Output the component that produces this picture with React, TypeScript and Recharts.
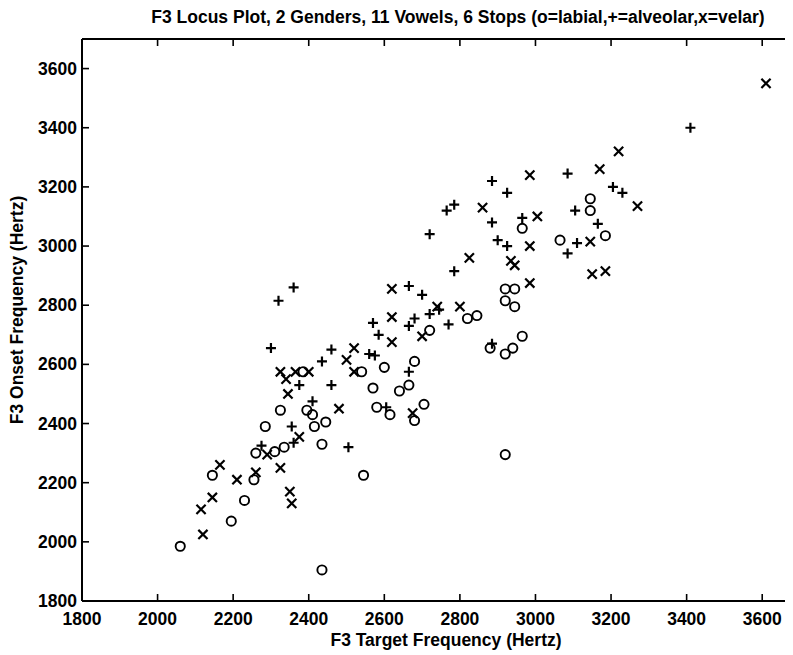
import { ScatterChart, Scatter, XAxis, YAxis, Label } from "recharts";

const FONT = "'Liberation Sans', Arial, Helvetica, sans-serif";

// F3 values in Hz
const labialTarget = [2060, 2195, 2230, 2145, 2255, 2260, 2310, 2335, 2435, 2545, 2435, 2325, 2395, 2410, 2285, 2415, 2445, 2385, 2540, 2600, 2680, 2665, 2640, 2570, 2580, 2615, 2680, 2705, 2720, 2820, 2845, 2880, 2920, 2940, 2965, 2920, 2920, 2945, 2920, 2945, 2965, 3065, 3145, 3145, 3185];
const labialOnset = [1985, 2070, 2140, 2225, 2210, 2300, 2305, 2320, 2330, 2225, 1905, 2445, 2445, 2430, 2390, 2390, 2405, 2575, 2575, 2590, 2610, 2530, 2510, 2520, 2455, 2430, 2410, 2465, 2715, 2755, 2765, 2655, 2635, 2655, 2695, 2295, 2855, 2855, 2815, 2795, 3060, 3020, 3160, 3120, 3035];

const alveolarTarget = [2275, 2360, 2505, 2320, 2300, 2460, 2435, 2375, 2460, 2410, 2355, 2745, 2720, 2770, 2680, 2570, 2665, 2585, 2560, 2575, 2605, 2720, 2900, 2925, 3110, 3085, 2785, 2665, 2700, 2665, 2885, 2765, 2785, 2885, 2360, 3085, 2925, 3205, 3230, 2965, 3105, 3165, 3410, 2885];
const alveolarOnset = [2325, 2335, 2320, 2815, 2655, 2650, 2610, 2530, 2530, 2475, 2390, 2785, 2770, 2735, 2755, 2740, 2730, 2700, 2635, 2630, 2455, 3040, 3020, 3000, 3010, 2975, 2915, 2865, 2835, 2575, 3220, 3120, 3140, 3080, 2860, 3245, 3180, 3200, 3180, 3095, 3120, 3075, 3400, 2670];

const velarTarget = [2120, 2115, 2145, 2165, 2210, 2260, 2290, 2375, 2325, 2350, 2355, 2500, 2325, 2340, 2365, 2400, 2345, 2480, 2740, 2800, 2620, 2620, 2700, 2520, 2520, 2675, 2985, 2825, 2935, 2945, 2985, 2620, 2860, 3220, 3170, 2985, 3270, 3005, 3145, 3150, 3185, 3610];
const velarOnset = [2025, 2110, 2150, 2260, 2210, 2235, 2295, 2355, 2250, 2170, 2130, 2615, 2575, 2550, 2575, 2575, 2500, 2450, 2795, 2795, 2760, 2675, 2695, 2655, 2575, 2435, 3000, 2960, 2950, 2935, 2875, 2855, 3130, 3320, 3260, 3240, 3135, 3100, 3015, 2905, 2915, 3550];

const xTicks = [1800, 2000, 2200, 2400, 2600, 2800, 3000, 3200, 3400, 3600];
const yTicks = [1800, 2000, 2200, 2400, 2600, 2800, 3000, 3200, 3400, 3600];

const toPoints = (xs: number[], ys: number[]) => xs.map((x, i) => ({ target: x, onset: ys[i] }));

const labial = toPoints(labialTarget, labialOnset);
const alveolar = toPoints(alveolarTarget, alveolarOnset);
const velar = toPoints(velarTarget, velarOnset);

const textStyle = { fontFamily: FONT, fontSize: 17.5, fontWeight: 700, fill: "#000" };

function CircleMark({ cx, cy }: any) {
  return <circle cx={cx} cy={cy} r={4.6} fill="none" stroke="#000" strokeWidth={1.9} />;
}

function PlusMark({ cx, cy }: any) {
  const s = 5;
  return <path d={`M${cx - s},${cy}H${cx + s}M${cx},${cy - s}V${cy + s}`} stroke="#000" strokeWidth={2.2} />;
}

function CrossMark({ cx, cy }: any) {
  const s = 4.6;
  return (
    <path
      d={`M${cx - s},${cy - s}L${cx + s},${cy + s}M${cx - s},${cy + s}L${cx + s},${cy - s}`}
      stroke="#000"
      strokeWidth={2.2}
    />
  );
}

const NoMark = () => <g />;

function BottomTick({ x, y, payload }: any) {
  return (
    <g>
      <line x1={x} y1={y} x2={x} y2={y - 7} stroke="#000" strokeWidth={1.6} />
      <text x={x} y={y + 24} textAnchor="middle" {...textStyle}>
        {payload.value}
      </text>
    </g>
  );
}

function LeftTick({ x, y, payload }: any) {
  return (
    <g>
      <line x1={x} y1={y} x2={x + 7} y2={y} stroke="#000" strokeWidth={1.6} />
      <text x={x - 5} y={y + 6} textAnchor="end" {...textStyle}>
        {payload.value}
      </text>
    </g>
  );
}

function TopTick({ x, y }: any) {
  return <line x1={x} y1={y} x2={x} y2={y + 7} stroke="#000" strokeWidth={1.6} />;
}

function RightTick({ x, y }: any) {
  return <line x1={x} y1={y} x2={x - 10} y2={y} stroke="#000" strokeWidth={1.6} />;
}

export default function App() {
  return (
    <div style={{ position: "relative", width: 785, height: 647, overflow: "hidden", background: "#fff" }}>
      <div
        style={{
          position: "absolute",
          left: 0,
          top: 0,
          width: 900,
          textAlign: "center",
          fontFamily: FONT,
          fontSize: 17.5,
          fontWeight: 700,
          lineHeight: "18px",
          whiteSpace: "nowrap",
        }}
      >
        F3 Locus Plot, 2 Genders, 11 Vowels, 6 Stops (o=labial,+=alveolar,x=velar)
      </div>
      <ScatterChart width={800} height={647} margin={{ top: 30, right: 7, bottom: 0, left: 0 }}>
        <XAxis
          xAxisId="bottom"
          type="number"
          dataKey="target"
          domain={[1800, 3700]}
          ticks={xTicks}
          interval={0}
          height={54}
          tickSize={0}
          tickMargin={0}
          tickLine={false}
          tick={<BottomTick />}
          axisLine={{ stroke: "#000", strokeWidth: 2 }}
        >
          <Label
            content={() => (
              <text x={438} y={638} textAnchor="middle" {...textStyle}>
                F3 Target Frequency (Hertz)
              </text>
            )}
          />
        </XAxis>
        <XAxis
          xAxisId="top"
          orientation="top"
          type="number"
          dataKey="target"
          domain={[1800, 3700]}
          ticks={xTicks.slice(1)}
          interval={0}
          height={1}
          tickSize={0}
          tickMargin={0}
          tickLine={false}
          tick={<TopTick />}
          axisLine={{ stroke: "#000", strokeWidth: 2 }}
        />
        <YAxis
          yAxisId="left"
          type="number"
          dataKey="onset"
          domain={[1800, 3700]}
          ticks={yTicks}
          interval={0}
          width={74}
          tickSize={0}
          tickMargin={0}
          tickLine={false}
          tick={<LeftTick />}
          axisLine={{ stroke: "#000", strokeWidth: 2 }}
        >
          <Label
            content={() => (
              <text transform="translate(15, 302) rotate(-90)" textAnchor="middle" {...textStyle}>
                F3 Onset Frequency (Hertz)
              </text>
            )}
          />
        </YAxis>
        <YAxis
          yAxisId="right"
          orientation="right"
          type="number"
          dataKey="onset"
          domain={[1800, 3700]}
          ticks={yTicks.slice(1)}
          interval={0}
          width={1}
          tickSize={0}
          tickMargin={0}
          tickLine={false}
          tick={<RightTick />}
          axisLine={{ stroke: "#000", strokeWidth: 2 }}
        />
        <Scatter xAxisId="bottom" yAxisId="left" data={labial} shape={<CircleMark />} isAnimationActive={false} />
        <Scatter xAxisId="bottom" yAxisId="left" data={alveolar} shape={<PlusMark />} isAnimationActive={false} />
        <Scatter xAxisId="bottom" yAxisId="left" data={velar} shape={<CrossMark />} isAnimationActive={false} />
        <Scatter xAxisId="top" yAxisId="right" data={velar} shape={<NoMark />} isAnimationActive={false} />
      </ScatterChart>
    </div>
  );
}
